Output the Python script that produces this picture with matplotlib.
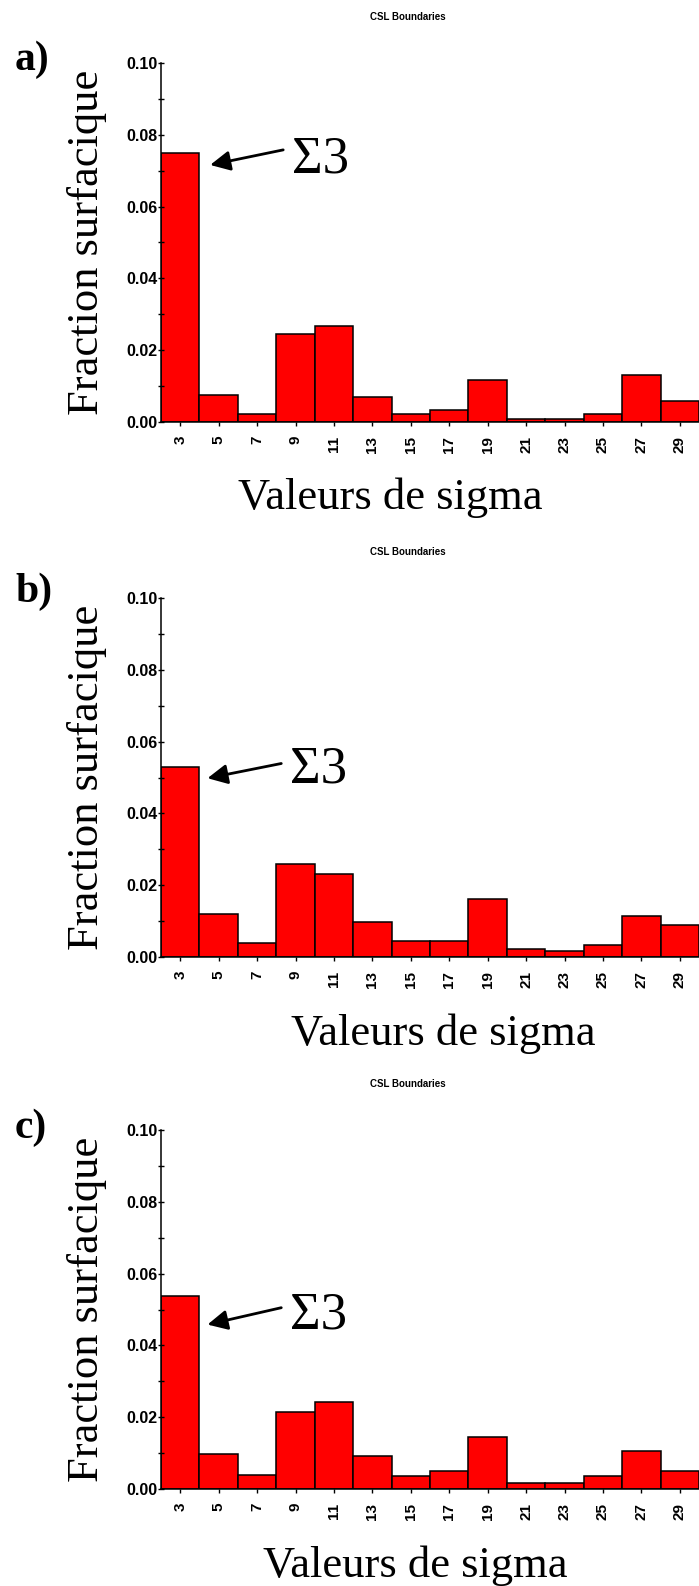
import numpy as np
import matplotlib
matplotlib.use('Agg')
import matplotlib.pyplot as plt

# sigma values (x categories) and area fractions for the three samples
sigma = [3, 5, 7, 9, 11, 13, 15, 17, 19, 21, 23, 25, 27, 29]
frac_a = [0.0749, 0.0074, 0.0023, 0.0244, 0.0267, 0.0070, 0.0023,
          0.0034, 0.0116, 0.0009, 0.0009, 0.0023, 0.0132, 0.0058]
frac_b = [0.0530, 0.0120, 0.0039, 0.0260, 0.0230, 0.0097, 0.0044,
          0.0044, 0.0161, 0.0023, 0.0017, 0.0034, 0.0115, 0.0090]
frac_c = [0.0537, 0.0098, 0.0039, 0.0215, 0.0243, 0.0093, 0.0035,
          0.0051, 0.0145, 0.0017, 0.0017, 0.0035, 0.0105, 0.0051]
letters = ['a)', 'b)', 'c)']
title = 'CSL Boundaries'
xlabel = 'Valeurs de sigma'
ylabel = 'Fraction surfacique'

W, H = 699, 1586
fig = plt.figure(figsize=(W/100., H/100.), dpi=100)

def fx(px):
    return px/float(W)

def fy(py):
    return 1.0 - py/float(H)

serif = 'Liberation Serif'
sans = 'Liberation Sans'

# layout (pixels): axis bottom, xlabel centre, letter centre, arrow / text spots
layout = [
    dict(data=frac_a, bot=422, xl_x=390, let_y=60,
         head=(0.78, 0.0716), tail=(2.68, 0.0758), txt=(2.92, 0.0696)),
    dict(data=frac_b, bot=957, xl_x=443, let_y=592,
         head=(0.71, 0.0498), tail=(2.63, 0.0539), txt=(2.86, 0.0485)),
    dict(data=frac_c, bot=1489, xl_x=415, let_y=1128,
         head=(0.71, 0.0458), tail=(2.63, 0.0505), txt=(2.86, 0.0448)),
]
ax_h = 359
x0 = 161

for i, p in enumerate(layout):
    ax = fig.add_axes([fx(x0), fy(p['bot']), fx(W) - fx(x0), ax_h/float(H)])
    xs = np.arange(len(sigma))
    ax.bar(xs, p['data'], width=1.0, color='#ff0000', edgecolor='black',
           linewidth=1.1)
    ax.set_xlim(-0.5, len(sigma) - 0.5)
    ax.set_ylim(0, 0.10)
    for s in ['top', 'right']:
        ax.spines[s].set_visible(False)
    for s in ['left', 'bottom']:
        ax.spines[s].set_linewidth(1.1)

    ax.set_yticks(np.arange(0, 0.101, 0.02))
    ax.set_yticks(np.arange(0.01, 0.10, 0.02), minor=True)
    ax.set_yticklabels(['%.2f' % v for v in np.arange(0, 0.101, 0.02)],
                       fontsize=11.5, fontweight='bold', family=sans)
    ax.tick_params(axis='y', which='both', direction='inout', length=5,
                   width=1, pad=0)
    ax.set_xticks(xs)
    ax.set_xticklabels([str(s) for s in sigma], rotation=90, fontsize=11,
                       fontweight='bold', family=sans)
    ax.tick_params(axis='x', direction='out', length=3, width=1, pad=7)

    ax.set_ylabel(ylabel, fontsize=32, family=serif)
    ax.yaxis.set_label_coords(-0.1, 0.5)

    fig.text(fx(p['xl_x']), fy(p['bot'] + 56), xlabel, fontsize=32,
             family=serif, ha='center', va='top')
    top = p['bot'] - ax_h
    fig.text(fx(408), fy(top - 46), title, fontsize=7, fontweight='bold',
             family=sans, ha='center', va='center')
    fig.text(fx(15), fy(p['let_y']), letters[i], fontsize=30,
             fontweight='bold', family=serif, ha='left', va='center')

    ax.annotate('', xy=p['head'], xytext=p['tail'],
                arrowprops=dict(arrowstyle='-|>', mutation_scale=30,
                                lw=2, color='black', shrinkA=0, shrinkB=0))
    ax.text(p['txt'][0], p['txt'][1], '\u03a33', fontsize=38, family=serif,
            ha='left', va='baseline')

plt.savefig('out.png', dpi=100)
plt.close()
